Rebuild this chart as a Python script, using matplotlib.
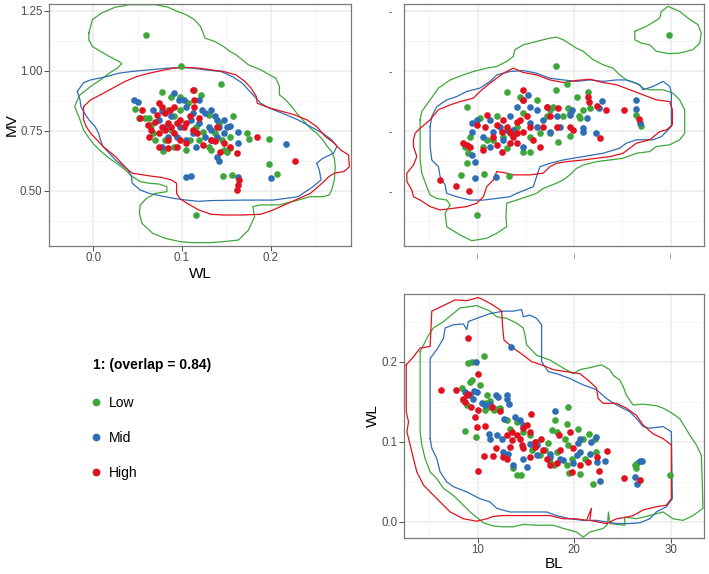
import numpy as np
import matplotlib.pyplot as plt
from matplotlib.lines import Line2D

plt.rcParams['font.family'] = ['Liberation Sans', 'DejaVu Sans']

groups = ['Low', 'Mid', 'High']
colors = {'Low': '#3FA73A', 'Mid': '#2F6EB5', 'High': '#E2111F'}
legend_title = '1: (overlap = 0.84)'

# =============================================================================
# WL (x) vs MV (y)
# =============================================================================
wl_mv_outline_low = [(-0.005, 1.157), (-0.001, 1.213), (0.009, 1.240), (0.025, 1.265), (0.036, 1.271),
    (0.039, 1.275), (0.070, 1.275), (0.084, 1.265), (0.095, 1.247), (0.105, 1.233), (0.114, 1.213),
    (0.121, 1.185), (0.124, 1.157), (0.126, 1.136), (0.137, 1.122), (0.147, 1.101), (0.154, 1.081),
    (0.161, 1.067), (0.168, 1.046), (0.175, 1.025), (0.189, 1.004), (0.199, 0.983), (0.206, 0.969),
    (0.210, 0.935), (0.210, 0.900), (0.217, 0.879), (0.224, 0.851), (0.231, 0.817), (0.238, 0.789),
    (0.245, 0.761), (0.252, 0.740), (0.259, 0.713), (0.264, 0.685), (0.269, 0.664), (0.272, 0.636),
    (0.273, 0.601), (0.272, 0.546), (0.269, 0.504), (0.266, 0.483), (0.259, 0.476), (0.245, 0.476),
    (0.231, 0.462), (0.210, 0.442), (0.189, 0.442), (0.180, 0.435), (0.182, 0.393), (0.175, 0.337),
    (0.164, 0.296), (0.147, 0.289), (0.133, 0.285), (0.112, 0.285), (0.098, 0.289), (0.081, 0.303),
    (0.067, 0.324), (0.055, 0.365), (0.052, 0.407), (0.053, 0.442), (0.060, 0.469), (0.070, 0.490),
    (0.083, 0.497), (0.083, 0.518), (0.074, 0.529), (0.063, 0.532), (0.053, 0.539), (0.044, 0.560),
    (0.036, 0.588), (0.029, 0.608), (0.018, 0.636), (0.009, 0.664), (0.001, 0.692), (-0.006, 0.726),
    (-0.011, 0.754), (-0.015, 0.796), (-0.018, 0.824), (-0.021, 0.851), (-0.018, 0.879), (-0.015, 0.900),
    (-0.010, 0.914), (-0.003, 0.935), (0.008, 0.962), (0.018, 0.990), (0.027, 1.011), (0.032, 1.029),
    (0.029, 1.039), (0.018, 1.060), (0.008, 1.081), (-0.001, 1.101), (-0.005, 1.129)]
wl_mv_outline_mid = [(-0.018, 0.914), (-0.011, 0.951), (-0.003, 0.962), (0.013, 0.974), (0.029, 0.990),
    (0.043, 0.997), (0.063, 1.004), (0.084, 1.011), (0.098, 1.014), (0.112, 1.011), (0.126, 1.004),
    (0.144, 0.997), (0.157, 0.976), (0.168, 0.949), (0.175, 0.921), (0.182, 0.893), (0.189, 0.865),
    (0.199, 0.844), (0.213, 0.824), (0.231, 0.796), (0.245, 0.768), (0.259, 0.740), (0.269, 0.713),
    (0.275, 0.685), (0.271, 0.657), (0.259, 0.636), (0.252, 0.615), (0.255, 0.588), (0.257, 0.546),
    (0.248, 0.518), (0.231, 0.476), (0.203, 0.462), (0.168, 0.462), (0.133, 0.460), (0.119, 0.457),
    (0.105, 0.462), (0.091, 0.469), (0.077, 0.479), (0.063, 0.490), (0.053, 0.504), (0.044, 0.532),
    (0.043, 0.560), (0.039, 0.588), (0.032, 0.608), (0.025, 0.629), (0.018, 0.657), (0.011, 0.685),
    (0.008, 0.713), (0.006, 0.740), (0.002, 0.768), (-0.005, 0.796), (-0.010, 0.824), (-0.014, 0.851),
    (-0.015, 0.879)]
wl_mv_outline_high = [(-0.011, 0.851), (-0.003, 0.879), (0.008, 0.900), (0.022, 0.928), (0.036, 0.956),
    (0.049, 0.976), (0.063, 0.990), (0.077, 1.001), (0.091, 1.011), (0.105, 1.014), (0.119, 1.011),
    (0.133, 1.004), (0.147, 0.997), (0.161, 0.983), (0.171, 0.956), (0.178, 0.928), (0.184, 0.893),
    (0.185, 0.865), (0.196, 0.849), (0.213, 0.831), (0.227, 0.817), (0.241, 0.796), (0.252, 0.768),
    (0.262, 0.726), (0.272, 0.699), (0.279, 0.671), (0.288, 0.650), (0.289, 0.601), (0.283, 0.581),
    (0.272, 0.574), (0.266, 0.560), (0.259, 0.535), (0.245, 0.490), (0.220, 0.449), (0.203, 0.421),
    (0.189, 0.403), (0.168, 0.400), (0.147, 0.400), (0.133, 0.403), (0.119, 0.421), (0.107, 0.446),
    (0.098, 0.467), (0.094, 0.490), (0.094, 0.532), (0.088, 0.546), (0.077, 0.556), (0.063, 0.563),
    (0.049, 0.571), (0.044, 0.574), (0.039, 0.588), (0.032, 0.615), (0.025, 0.643), (0.018, 0.664),
    (0.011, 0.685), (0.004, 0.713), (-0.003, 0.740), (-0.008, 0.768), (-0.011, 0.796)]

wl_mv_points_low = [(0.059, 1.147), (0.099, 1.022), (0.144, 0.944), (0.158, 0.811), (0.173, 0.743),
    (0.176, 0.718), (0.198, 0.715), (0.198, 0.611), (0.207, 0.571), (0.146, 0.564), (0.156, 0.567),
    (0.116, 0.400), (0.154, 0.678), (0.151, 0.664), (0.047, 0.842), (0.051, 0.803), (0.058, 0.803),
    (0.063, 0.803), (0.065, 0.775), (0.077, 0.910), (0.088, 0.893), (0.098, 0.893), (0.114, 0.921),
    (0.121, 0.900), (0.079, 0.668), (0.091, 0.685), (0.105, 0.671), (0.119, 0.713), (0.124, 0.747),
    (0.131, 0.817), (0.137, 0.740), (0.145, 0.713), (0.147, 0.671), (0.133, 0.671), (0.088, 0.754),
    (0.098, 0.838), (0.109, 0.713), (0.116, 0.768), (0.070, 0.713), (0.084, 0.838), (0.107, 0.865),
    (0.067, 0.740), (0.130, 0.685), (0.154, 0.726), (0.091, 0.810), (0.081, 0.713), (0.142, 0.782)]
wl_mv_points_mid = [(0.217, 0.694), (0.200, 0.556), (0.105, 0.557), (0.110, 0.563), (0.163, 0.560),
    (0.163, 0.701), (0.163, 0.747), (0.154, 0.771), (0.142, 0.625), (0.140, 0.643), (0.046, 0.879),
    (0.050, 0.872), (0.067, 0.838), (0.077, 0.831), (0.091, 0.907), (0.097, 0.879), (0.105, 0.851),
    (0.102, 0.879), (0.088, 0.810), (0.112, 0.824), (0.123, 0.838), (0.126, 0.824), (0.133, 0.838),
    (0.137, 0.810), (0.119, 0.782), (0.130, 0.768), (0.140, 0.796), (0.142, 0.768), (0.147, 0.796),
    (0.147, 0.740), (0.126, 0.726), (0.133, 0.713), (0.116, 0.685), (0.105, 0.713), (0.095, 0.726),
    (0.081, 0.768), (0.074, 0.796), (0.112, 0.740), (0.098, 0.768), (0.119, 0.879), (0.110, 0.796),
    (0.140, 0.726), (0.151, 0.768), (0.133, 0.754), (0.084, 0.726), (0.077, 0.685)]
wl_mv_points_high = [(0.228, 0.624), (0.185, 0.725), (0.162, 0.656), (0.164, 0.546), (0.163, 0.525),
    (0.162, 0.504), (0.143, 0.664), (0.112, 0.921), (0.114, 0.879), (0.114, 0.851), (0.055, 0.838),
    (0.053, 0.803), (0.062, 0.775), (0.063, 0.726), (0.074, 0.865), (0.077, 0.851), (0.081, 0.824),
    (0.086, 0.838), (0.091, 0.851), (0.072, 0.817), (0.070, 0.789), (0.077, 0.768), (0.084, 0.782),
    (0.074, 0.740), (0.081, 0.754), (0.088, 0.768), (0.095, 0.782), (0.098, 0.796), (0.102, 0.768),
    (0.105, 0.782), (0.109, 0.810), (0.112, 0.754), (0.091, 0.740), (0.084, 0.713), (0.098, 0.713),
    (0.105, 0.699), (0.095, 0.685), (0.074, 0.685), (0.084, 0.678), (0.119, 0.803), (0.124, 0.692),
    (0.133, 0.713), (0.137, 0.706), (0.147, 0.699), (0.154, 0.685), (0.140, 0.768), (0.065, 0.754),
    (0.117, 0.740)]

# =============================================================================
# BL (x) vs MV (y)
# =============================================================================
bl_mv_outline_low = [(4.03, 0.796), (4.21, 0.831), (5.07, 0.879), (5.93, 0.928), (7.14, 0.962),
    (8.52, 0.983), (9.55, 0.997), (10.93, 1.011), (11.97, 1.018), (13.0, 1.039), (13.69, 1.060),
    (13.86, 1.088), (14.72, 1.108), (16.10, 1.122), (17.48, 1.136), (18.17, 1.140), (18.86, 1.129),
    (20.24, 1.094), (20.93, 1.081), (21.97, 1.046), (23.0, 1.025), (24.03, 1.011), (24.72, 0.983),
    (25.41, 0.962), (26.45, 0.949), (27.14, 0.928), (27.83, 0.921), (29.21, 0.921), (30.24, 0.907),
    (30.93, 0.879), (31.45, 0.838), (31.45, 0.740), (30.93, 0.713), (29.90, 0.692), (28.52, 0.685),
    (27.83, 0.664), (26.45, 0.657), (25.07, 0.636), (23.69, 0.629), (22.31, 0.622), (20.93, 0.608),
    (20.24, 0.594), (19.55, 0.567), (18.86, 0.546), (18.17, 0.532), (16.79, 0.511), (16.10, 0.490),
    (15.07, 0.476), (14.03, 0.462), (13.0, 0.449), (12.93, 0.393), (13.0, 0.351), (11.97, 0.324),
    (10.93, 0.303), (9.38, 0.293), (8.17, 0.317), (6.79, 0.351), (6.62, 0.407), (7.14, 0.442),
    (6.79, 0.462), (5.76, 0.469), (5.07, 0.483), (4.72, 0.518), (4.21, 0.574), (4.03, 0.629),
    (4.03, 0.740)]
bl_mv_outline_low_2 = [(26.28, 1.164), (27.48, 1.185), (28.86, 1.219), (29.03, 1.247), (29.72, 1.268),
    (30.93, 1.247), (32.0, 1.213), (32.83, 1.192), (33.17, 1.157), (33.0, 1.115), (32.31, 1.088),
    (30.93, 1.074), (29.90, 1.071), (28.52, 1.081), (27.83, 1.108), (26.97, 1.115), (26.28, 1.129)]
bl_mv_outline_mid = [(5.07, 0.768), (5.24, 0.810), (5.76, 0.851), (6.79, 0.879), (7.83, 0.893),
    (8.86, 0.914), (10.24, 0.928), (11.28, 0.956), (11.97, 0.983), (13.34, 0.997), (14.72, 1.001),
    (16.10, 0.990), (17.48, 0.969), (18.86, 0.962), (20.24, 0.956), (21.62, 0.962), (23.0, 0.956),
    (24.38, 0.962), (25.41, 0.962), (26.79, 0.942), (27.14, 0.921), (28.17, 0.935), (29.21, 0.956),
    (29.90, 0.935), (30.07, 0.907), (30.07, 0.768), (29.55, 0.747), (29.03, 0.726), (28.17, 0.713),
    (26.45, 0.713), (25.41, 0.699), (24.72, 0.678), (23.0, 0.657), (20.93, 0.643), (18.86, 0.629),
    (17.48, 0.615), (16.45, 0.601), (16.10, 0.560), (15.76, 0.518), (14.03, 0.490), (13.34, 0.476),
    (11.97, 0.469), (10.59, 0.462), (9.21, 0.462), (7.83, 0.476), (6.79, 0.490), (6.62, 0.525),
    (6.10, 0.560), (5.93, 0.601), (5.24, 0.629), (5.07, 0.685)]
bl_mv_outline_high = [(3.34, 0.713), (3.52, 0.740), (4.03, 0.761), (5.07, 0.796), (5.93, 0.838),
    (7.14, 0.858), (8.17, 0.872), (9.55, 0.886), (10.24, 0.914), (11.28, 0.949), (12.66, 0.990),
    (13.69, 1.011), (14.72, 0.993), (16.10, 0.983), (17.48, 0.962), (18.86, 0.951), (20.24, 0.960),
    (21.62, 0.965), (23.0, 0.951), (24.38, 0.942), (25.76, 0.921), (27.14, 0.900), (28.52, 0.879),
    (29.90, 0.872), (30.17, 0.838), (30.17, 0.775), (29.55, 0.754), (28.86, 0.747), (27.83, 0.713),
    (26.45, 0.699), (25.76, 0.678), (25.07, 0.657), (23.69, 0.643), (22.31, 0.636), (20.93, 0.629),
    (19.21, 0.622), (18.17, 0.615), (17.48, 0.601), (16.79, 0.574), (15.41, 0.567), (13.69, 0.567),
    (13.0, 0.574), (11.97, 0.581), (11.62, 0.546), (10.93, 0.518), (10.59, 0.476), (9.90, 0.449),
    (8.86, 0.435), (7.48, 0.428), (6.10, 0.421), (5.07, 0.435), (4.03, 0.462), (3.34, 0.476),
    (3.17, 0.504), (2.66, 0.539), (2.66, 0.574), (3.34, 0.608), (3.69, 0.643), (3.34, 0.685)]

bl_mv_points_low = [(29.83, 1.147), (18.10, 1.022), (19.21, 0.944), (21.45, 0.910), (13.07, 0.910),
    (18.07, 0.919), (8.90, 0.851), (9.90, 0.400), (8.24, 0.567), (10.66, 0.571), (13.24, 0.563),
    (18.34, 0.703), (26.38, 0.817), (26.93, 0.771), (19.55, 0.729), (20.31, 0.890), (20.52, 0.810),
    (8.69, 0.685), (8.86, 0.615), (9.03, 0.657), (9.21, 0.726), (10.24, 0.803), (10.93, 0.713),
    (11.97, 0.810), (12.66, 0.726), (14.38, 0.893), (14.72, 0.824), (15.41, 0.726), (14.72, 0.664),
    (15.41, 0.664), (16.45, 0.740), (17.48, 0.838), (17.83, 0.851), (16.10, 0.879), (19.38, 0.845),
    (19.55, 0.824), (20.93, 0.838), (21.62, 0.845), (20.59, 0.803), (17.48, 0.740), (10.59, 0.685),
    (11.62, 0.713), (13.34, 0.740), (14.03, 0.768), (18.86, 0.810), (17.14, 0.810), (13.0, 0.678)]
bl_mv_points_mid = [(9.76, 0.556), (11.90, 0.560), (26.45, 0.879), (26.38, 0.840), (26.79, 0.782),
    (22.83, 0.875), (22.21, 0.740), (20.93, 0.747), (19.72, 0.838), (9.38, 0.782), (9.90, 0.796),
    (9.38, 0.747), (9.38, 0.650), (9.72, 0.622), (10.59, 0.726), (11.28, 0.796), (11.62, 0.747),
    (12.66, 0.713), (13.34, 0.810), (14.03, 0.851), (14.72, 0.879), (15.24, 0.900), (15.41, 0.851),
    (16.10, 0.838), (17.14, 0.851), (18.17, 0.810), (18.52, 0.768), (17.48, 0.747), (16.10, 0.768),
    (14.72, 0.685), (13.69, 0.754), (12.31, 0.768), (11.28, 0.685), (19.55, 0.817), (21.28, 0.803),
    (22.59, 0.845), (20.93, 0.761), (16.79, 0.796), (15.41, 0.782), (13.0, 0.754)]
bl_mv_points_high = [(6.10, 0.544), (7.76, 0.521), (9.10, 0.501), (22.66, 0.722), (25.14, 0.835),
    (23.34, 0.835), (21.52, 0.869), (22.38, 0.854), (26.72, 0.799), (18.34, 0.844), (8.52, 0.699),
    (8.86, 0.692), (9.21, 0.685), (9.90, 0.775), (10.59, 0.671), (10.76, 0.768), (11.62, 0.726),
    (11.97, 0.692), (12.48, 0.664), (12.66, 0.796), (13.0, 0.768), (13.34, 0.747), (13.69, 0.726),
    (14.03, 0.740), (14.38, 0.796), (14.72, 0.921), (14.72, 0.879), (15.07, 0.810), (15.41, 0.768),
    (15.76, 0.713), (16.45, 0.685), (16.79, 0.768), (17.14, 0.851), (17.48, 0.810), (18.17, 0.768),
    (19.55, 0.768), (19.90, 0.754), (14.03, 0.699), (13.34, 0.699), (12.48, 0.747), (11.97, 0.775),
    (14.72, 0.747), (10.93, 0.817), (14.03, 0.789), (21.45, 0.893)]

# =============================================================================
# BL (x) vs WL (y)
# =============================================================================
bl_wl_outline_low = [(4.03, 0.2125), (4.90, 0.233), (5.41, 0.242), (6.45, 0.250), (8.17, 0.267),
    (9.90, 0.270), (11.28, 0.263), (11.97, 0.256), (13.0, 0.254), (14.03, 0.248), (14.72, 0.242),
    (14.90, 0.233), (15.07, 0.221), (16.10, 0.208), (17.48, 0.202), (18.86, 0.192), (19.90, 0.185),
    (20.59, 0.190), (21.62, 0.1925), (22.83, 0.196), (23.69, 0.190), (24.03, 0.183), (24.72, 0.177),
    (25.07, 0.169), (25.41, 0.158), (26.10, 0.146), (27.14, 0.147), (28.52, 0.145), (29.21, 0.142),
    (29.90, 0.1375), (30.93, 0.129), (32.0, 0.108), (32.66, 0.096), (33.17, 0.083), (33.28, 0.046),
    (33.34, 0.017), (32.31, 0.008), (31.28, 0.002), (30.24, 0.004), (29.21, 0.0125), (27.83, 0.008),
    (26.45, 0.004), (25.24, 0.006), (25.24, -0.004), (23.69, -0.002), (23.55, 0.0125), (23.45, -0.003),
    (23.0, -0.008), (21.62, -0.0125), (20.93, -0.019), (20.24, -0.0125), (18.86, -0.008),
    (17.83, -0.004), (16.10, -0.004), (14.72, -0.003), (13.69, -0.006), (12.66, -0.006),
    (11.62, -0.005), (10.59, -0.001), (9.21, 0.0125), (8.17, 0.025), (7.48, 0.033), (6.45, 0.042),
    (5.76, 0.054), (5.07, 0.0625), (4.55, 0.079), (4.21, 0.096), (4.03, 0.1125)]
bl_wl_outline_mid = [(5.07, 0.104), (5.07, 0.204), (5.76, 0.215), (6.45, 0.229), (6.62, 0.242),
    (7.48, 0.246), (8.52, 0.247), (8.86, 0.240), (9.03, 0.250), (9.90, 0.254), (11.28, 0.260),
    (12.66, 0.263), (13.69, 0.263), (14.55, 0.265), (14.72, 0.256), (15.41, 0.258), (16.10, 0.254),
    (16.62, 0.246), (16.62, 0.200), (17.31, 0.1875), (18.17, 0.185), (19.55, 0.179), (20.93, 0.171),
    (22.31, 0.165), (23.34, 0.154), (24.38, 0.146), (25.76, 0.1375), (26.45, 0.129), (27.14, 0.119),
    (27.83, 0.117), (29.21, 0.119), (30.07, 0.1125), (30.17, 0.029), (29.55, 0.019), (28.52, 0.0125),
    (27.83, 0.004), (26.79, -0.001), (25.76, -0.002), (24.38, -0.002), (23.34, 0.0), (22.31, 0.002),
    (20.93, 0.002), (19.55, 0.004), (18.17, 0.008), (17.14, 0.0125), (15.76, 0.0125), (14.72, 0.0125),
    (13.34, 0.0125), (11.97, 0.017), (11.28, 0.025), (10.24, 0.029), (8.86, 0.0375), (7.48, 0.044),
    (6.79, 0.050), (6.10, 0.0625), (5.76, 0.079), (5.24, 0.092)]
bl_wl_outline_high = [(2.59, 0.196), (3.34, 0.206), (4.03, 0.217), (5.07, 0.219), (5.14, 0.2375),
    (5.24, 0.263), (6.45, 0.270), (7.66, 0.277), (8.86, 0.276), (10.07, 0.280), (10.93, 0.275),
    (11.79, 0.269), (12.48, 0.263), (12.59, 0.242), (12.72, 0.227), (13.69, 0.217), (14.72, 0.208),
    (15.59, 0.200), (16.62, 0.196), (17.83, 0.190), (19.21, 0.1875), (20.59, 0.185), (21.62, 0.175),
    (22.31, 0.167), (22.48, 0.154), (23.0, 0.148), (24.38, 0.148), (25.41, 0.142), (26.45, 0.133),
    (27.14, 0.121), (28.17, 0.110), (29.21, 0.104), (30.07, 0.096), (30.07, 0.029), (29.55, 0.021),
    (28.52, 0.019), (27.14, 0.015), (26.10, 0.008), (25.41, 0.006), (24.38, 0.004), (23.34, -0.002),
    (21.62, 0.002), (21.79, 0.017), (21.28, 0.002), (20.24, 0.004), (18.86, 0.004), (17.48, 0.008),
    (16.10, 0.008), (14.72, 0.008), (12.66, 0.008), (11.62, 0.007), (10.93, 0.004), (9.90, 0.001),
    (8.52, 0.004), (7.14, 0.0125), (6.10, 0.025), (5.07, 0.0375), (4.38, 0.046), (3.69, 0.0625),
    (3.34, 0.079), (3.0, 0.096), (2.66, 0.1125), (2.83, 0.125), (2.59, 0.1375)]

bl_wl_points_low = [(8.97, 0.198), (9.41, 0.199), (10.69, 0.2075), (10.24, 0.171), (9.38, 0.177),
    (9.21, 0.175), (8.34, 0.167), (8.52, 0.152), (8.86, 0.146), (8.69, 0.113), (9.83, 0.106),
    (10.76, 0.140), (10.86, 0.148), (11.28, 0.151), (10.93, 0.158), (11.72, 0.140), (11.55, 0.142),
    (11.28, 0.144), (11.97, 0.141), (12.31, 0.142), (13.0, 0.127), (13.34, 0.116), (14.03, 0.125),
    (14.72, 0.1125), (15.41, 0.108), (16.10, 0.100), (13.69, 0.0675), (14.03, 0.058), (14.45, 0.059),
    (15.59, 0.090), (16.45, 0.083), (17.48, 0.075), (19.21, 0.071), (19.38, 0.096), (19.03, 0.103),
    (17.66, 0.115), (18.17, 0.1125), (19.28, 0.122), (18.0, 0.127), (20.41, 0.116), (20.93, 0.104),
    (21.55, 0.110), (22.14, 0.103), (18.24, 0.0875), (17.90, 0.071), (19.48, 0.061), (20.59, 0.060),
    (21.90, 0.0475), (22.24, 0.0875), (26.28, 0.071), (26.38, 0.0675), (26.52, 0.073), (29.90, 0.058),
    (16.97, 0.090), (17.31, 0.098), (19.72, 0.079), (21.10, 0.079), (19.38, 0.144)]
bl_wl_points_mid = [(9.83, 0.200), (13.48, 0.218), (8.69, 0.1625), (9.62, 0.163), (9.21, 0.158),
    (9.55, 0.154), (9.90, 0.1625), (10.41, 0.148), (10.76, 0.146), (11.28, 0.147), (11.90, 0.158),
    (12.14, 0.156), (13.28, 0.147), (13.0, 0.158), (13.0, 0.154), (12.72, 0.129), (13.86, 0.131),
    (14.38, 0.127), (14.72, 0.121), (11.21, 0.110), (11.28, 0.104), (11.97, 0.108), (12.48, 0.104),
    (12.66, 0.0875), (13.17, 0.085), (13.69, 0.071), (15.07, 0.069), (14.72, 0.079), (15.41, 0.097),
    (16.10, 0.096), (16.10, 0.083), (17.48, 0.085), (18.0, 0.138), (17.48, 0.081), (18.52, 0.079),
    (18.86, 0.077), (20.24, 0.083), (20.59, 0.0875), (19.83, 0.073), (20.41, 0.098), (20.59, 0.104),
    (21.79, 0.100), (22.24, 0.106), (21.62, 0.085), (22.31, 0.075), (23.17, 0.076), (22.72, 0.051),
    (26.28, 0.056), (26.52, 0.047), (26.86, 0.076), (27.07, 0.076)]
bl_wl_points_high = [(8.97, 0.229), (10.07, 0.185), (6.17, 0.165), (7.76, 0.165), (8.52, 0.154),
    (8.69, 0.150), (8.86, 0.158), (9.03, 0.160), (9.28, 0.144), (10.07, 0.140), (9.72, 0.131),
    (9.90, 0.119), (10.76, 0.120), (10.69, 0.0825), (10.0, 0.063), (11.45, 0.144), (12.31, 0.138),
    (11.86, 0.092), (11.62, 0.0825), (12.66, 0.081), (13.0, 0.079), (13.34, 0.094), (13.52, 0.102),
    (13.0, 0.108), (13.52, 0.1125), (14.03, 0.108), (14.38, 0.104), (14.55, 0.096), (14.72, 0.117),
    (15.07, 0.121), (15.41, 0.1125), (15.48, 0.135), (15.93, 0.100), (15.93, 0.094), (16.52, 0.104),
    (14.72, 0.092), (15.41, 0.081), (16.72, 0.090), (17.14, 0.079), (17.48, 0.071), (18.17, 0.073),
    (18.45, 0.108), (18.52, 0.090), (19.55, 0.112), (19.83, 0.0925), (19.72, 0.0625), (20.59, 0.071),
    (21.48, 0.075), (22.31, 0.081), (23.41, 0.088), (22.59, 0.063), (25.14, 0.055), (26.79, 0.052)]

# axis settings
mv_ticks = [0.50, 0.75, 1.00, 1.25]
mv_minor = [0.375, 0.625, 0.875, 1.125]
mv_lim = (0.271, 1.280)
wl_ticks_p1 = [0.0, 0.1, 0.2]
wl_minor_p1 = [-0.05, 0.05, 0.15, 0.25]
wl_lim_p1 = (-0.0248, 0.2908)
bl_ticks = [10, 20, 30]
bl_minor = [5, 15, 25]
bl_lim = (2.36, 33.45)
wl_ticks_p3 = [0.0, 0.1, 0.2]
wl_minor_p3 = [0.05, 0.15, 0.25]
wl_lim_p3 = (-0.0196, 0.284)


def style_axes(ax, xticks, xminor, xlim, yticks, yminor, ylim):
    ax.set_xlim(xlim)
    ax.set_ylim(ylim)
    ax.set_xticks(xticks)
    ax.set_xticks(xminor, minor=True)
    ax.set_yticks(yticks)
    ax.set_yticks(yminor, minor=True)
    ax.grid(which='major', color='#EBEBEB', lw=1.1)
    ax.grid(which='minor', color='#F4F4F4', lw=0.6)
    ax.set_axisbelow(True)
    ax.tick_params(which='minor', length=0)
    ax.tick_params(which='major', length=3.6, width=0.6, color='#333333',
                   labelcolor='#4D4D4D', labelsize=8.3, pad=1)
    for s in ax.spines.values():
        s.set_color('#7A7A7A')
        s.set_linewidth(0.9)


def draw(ax, outlines, points):
    for g in groups:
        for ol in outlines[g]:
            xy = np.array(ol + [ol[0]])
            ax.plot(xy[:, 0], xy[:, 1], color=colors[g], lw=0.9, zorder=2)
    for g in groups:
        p = np.array(points[g])
        ax.scatter(p[:, 0], p[:, 1], s=23, color=colors[g], linewidths=0, zorder=3)


fig = plt.figure(figsize=(7.09, 5.74), dpi=100)

# top-left: WL vs MV
ax1 = fig.add_axes([49 / 709, 1 - 246 / 574, 302 / 709, 242.5 / 574])
draw(ax1,
     {'Low': [wl_mv_outline_low], 'Mid': [wl_mv_outline_mid], 'High': [wl_mv_outline_high]},
     {'Low': wl_mv_points_low, 'Mid': wl_mv_points_mid, 'High': wl_mv_points_high})
style_axes(ax1, wl_ticks_p1, wl_minor_p1, wl_lim_p1, mv_ticks, mv_minor, mv_lim)
ax1.set_xticklabels(['0.0', '0.1', '0.2'])
ax1.set_yticklabels(['0.50', '0.75', '1.00', '1.25'])
ax1.set_xlabel('WL', fontsize=11, labelpad=2)
ax1.set_ylabel('MV', fontsize=11, labelpad=1)

# top-right: BL vs MV (no labels)
ax2 = fig.add_axes([404 / 709, 1 - 246 / 574, 300 / 709, 242.5 / 574])
draw(ax2,
     {'Low': [bl_mv_outline_low, bl_mv_outline_low_2], 'Mid': [bl_mv_outline_mid],
      'High': [bl_mv_outline_high]},
     {'Low': bl_mv_points_low, 'Mid': bl_mv_points_mid, 'High': bl_mv_points_high})
style_axes(ax2, bl_ticks, bl_minor, bl_lim, mv_ticks, mv_minor, mv_lim)
ax2.tick_params(which='major', length=0)
ax2.set_xticklabels(['|'] * len(bl_ticks), fontsize=3.5, color='#333333')
ax2.set_yticklabels(['-'] * len(mv_ticks), fontsize=7, color='#333333')
ax2.tick_params(axis='x', pad=6)
ax2.tick_params(axis='y', pad=9)

# bottom-right: BL vs WL
ax3 = fig.add_axes([404 / 709, 1 - 537.7 / 574, 300 / 709, 243.4 / 574])
draw(ax3,
     {'Low': [bl_wl_outline_low], 'Mid': [bl_wl_outline_mid], 'High': [bl_wl_outline_high]},
     {'Low': bl_wl_points_low, 'Mid': bl_wl_points_mid, 'High': bl_wl_points_high})
style_axes(ax3, bl_ticks, bl_minor, bl_lim, wl_ticks_p3, wl_minor_p3, wl_lim_p3)
ax3.set_yticklabels(['0.0', '0.1', '0.2'])
ax3.set_xlabel('BL', fontsize=11, labelpad=1)
ax3.set_ylabel('WL', fontsize=11, labelpad=1)

# legend in the empty bottom-left cell
fig.text(92.7 / 709, 1 - 365 / 574, legend_title, fontsize=10, fontweight='bold',
         ha='left', va='center')
handles = [Line2D([], [], ls='none', marker='o', markersize=5.6, color=colors[g],
                  markeredgewidth=0) for g in groups]
fig.legend(handles, groups, loc='upper left', bbox_to_anchor=(92.5 / 709, 1 - 396 / 574),
           frameon=False, fontsize=10, handlelength=0.5, handletextpad=0.68,
           labelspacing=1.5, borderpad=0, borderaxespad=0)

fig.savefig('out.png', dpi=100)
